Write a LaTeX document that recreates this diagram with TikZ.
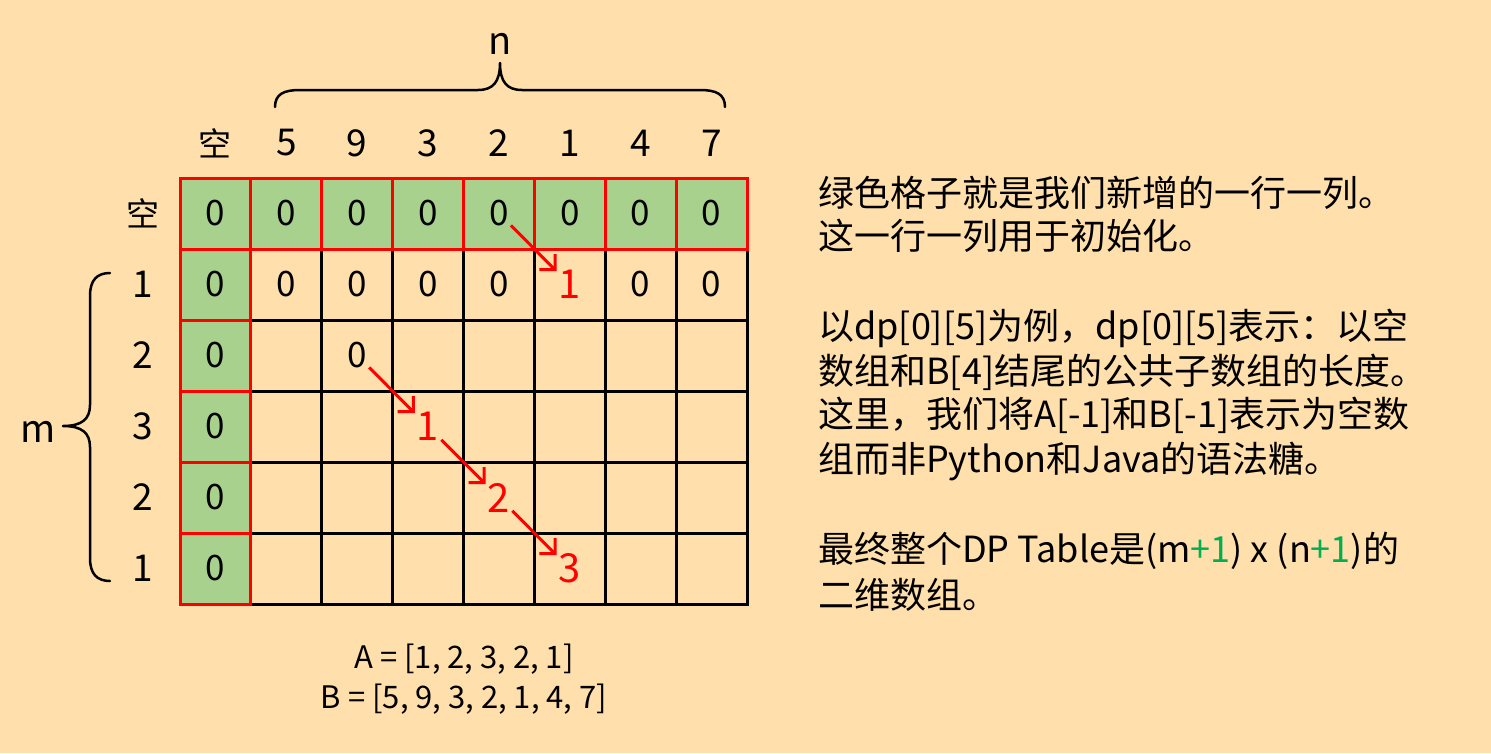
\documentclass[tikz,border=0pt]{standalone}
\usepackage{fontspec}
\setmainfont{Noto Sans CJK SC}
\usetikzlibrary{arrows.meta}
\definecolor{bg}{HTML}{FFDFAB}
\definecolor{cellgreen}{HTML}{A9D18E}
\definecolor{txtgreen}{HTML}{00B050}
\begin{document}
\begin{tikzpicture}[x=1pt,y=-1pt,
  cellnum/.style={inner sep=2pt, font=\fontsize{35}{40}\selectfont},
  rednum/.style={inner sep=2pt, text=red, font=\fontsize{40}{46}\selectfont},
  headnum/.style={inner sep=0pt, font=\fontsize{37}{42}\selectfont},
  rtext/.style={anchor=base west, inner sep=0pt, font=\fontsize{36}{44}\selectfont},
  chainarrow/.style={draw=red, line width=3pt, -{Straight Barb[length=11pt,width=22pt]}},
  gridline/.style={line width=3pt},
  bracepath/.style={line width=2.5pt, line cap=round, line join=round},
]
\fill[bg] (0,0) rectangle (1491,753);
\useasboundingbox (0,0) rectangle (1491,753);

% green cells
\fill[cellgreen] (180,178) rectangle (747,249);
\fill[cellgreen] (180,249) rectangle (250.875,604);

% black grid
\foreach \i in {0,...,8}
  \draw[gridline, line cap=rect] ({180+\i*70.875},178) -- ({180+\i*70.875},604);
\foreach \j in {0,...,6}
  \draw[gridline, line cap=rect] (180,{178+\j*71}) -- (747,{178+\j*71});

% red borders of green cells
\foreach \i in {0,...,7}
  \draw[gridline, red, line join=miter] ({180+\i*70.875},178) rectangle ({180+(\i+1)*70.875},249);
\foreach \j in {1,...,5}
  \draw[gridline, red, line join=miter] (180,{178+\j*71}) rectangle (250.875,{178+(\j+1)*71});

% header labels
\node[inner sep=0pt, font=\fontsize{33}{38}\selectfont] (h0) at (215.4,143) {空};
\foreach \c/\v in {1/5,2/9,3/3,4/2,5/1,6/4,7/7}
  \node[headnum] (h\c) at ({180+(\c+0.5)*70.875},143) {\v};

% row labels
\node[inner sep=0pt, font=\fontsize{33}{38}\selectfont] (r0) at (143,213.5) {空};
\foreach \r/\v in {1/1,2/2,3/3,4/2,5/1}
  \node[headnum] (r\r) at (143,{178+(\r+0.5)*71}) {\v};

% row 0 zeros
\foreach \c in {0,...,7}
  \node[cellnum] (c0\c) at ({180+(\c+0.5)*70.875},213.5) {0};
% column 0 zeros
\foreach \r in {1,...,5}
  \node[cellnum] (c\r0) at (215.4,{178+(\r+0.5)*71}) {0};
% row 1
\foreach \c in {1,2,3,4,6,7}
  \node[cellnum] (c1\c) at ({180+(\c+0.5)*70.875},284.5) {0};
\node[rednum] (c15) at ({180+5.5*70.875},284.5) {1};
% diagonal
\node[cellnum] (c22) at ({180+2.5*70.875},355.5) {0};
\node[rednum] (c33) at ({180+3.5*70.875},426.5) {1};
\node[rednum] (c44) at ({180+4.5*70.875},497.5) {2};
\node[rednum] (c55) at ({180+5.5*70.875},568.5) {3};

% arrows
\draw[chainarrow] (c04) -- (c15);
\draw[chainarrow] (c22) -- (c33);
\draw[chainarrow] (c33) -- (c44);
\draw[chainarrow] (c44) -- (c55);

% top brace
\draw[bracepath] (275,107) .. controls (275,94) and (284,90) .. (300,90)
  -- (478,90) .. controls (493,90) and (500,82) .. (500,63)
  .. controls (500,82) and (507,90) .. (522,90)
  -- (700,90) .. controls (716,90) and (725,94) .. (725,107);
\node[inner sep=0pt, font=\fontsize{38}{44}\selectfont] (nlab) at (500,44) {n};

% left brace
\draw[bracepath] (110,273) .. controls (97,273) and (90,280) .. (90,296)
  -- (90,405) .. controls (90,419) and (82,426) .. (63,426)
  .. controls (82,426) and (90,433) .. (90,447)
  -- (90,558) .. controls (90,574) and (97,581) .. (110,581);
\node[inner sep=0pt, font=\fontsize{38}{44}\selectfont] (mlab) at (38,432) {m};

% arrays below
\node[anchor=base, inner sep=0pt, font=\fontsize{31}{36}\selectfont] (arrA) at (464,668) {A = [1, 2, 3, 2, 1]};
\node[anchor=base, inner sep=0pt, font=\fontsize{31}{36}\selectfont] (arrB) at (464,708) {B = [5, 9, 3, 2, 1, 4, 7]};

% right text
\node[rtext] (t1) at (818,206) {绿色格子就是我们新增的一行一列。};
\node[rtext] (t2) at (818,249) {这一行一列用于初始化。};
\node[rtext] (t3) at (818,339) {以dp[0][5]为例，dp[0][5]表示：以空};
\node[rtext] (t4) at (818,384) {数组和B[4]结尾的公共子数组的长度。};
\node[rtext] (t5) at (818,427) {这里，我们将A[-1]和B[-1]表示为空数};
\node[rtext] (t6) at (818,472) {组而非Python和Java的语法糖。};
\node[rtext] (t7) at (818,562) {最终整个DP Table是(m{\color{txtgreen}+1}) x (n{\color{txtgreen}+1})的};
\node[rtext] (t8) at (818,608) {二维数组。};
\end{tikzpicture}
\end{document}
